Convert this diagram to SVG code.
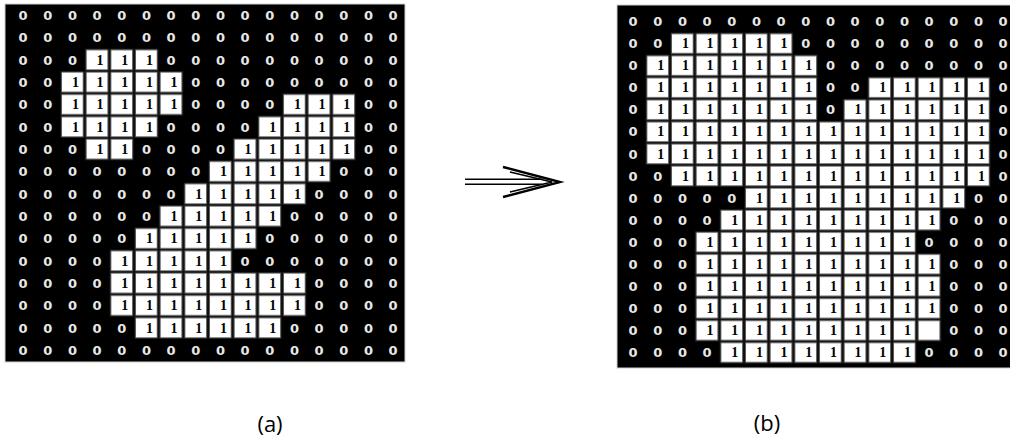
<svg xmlns="http://www.w3.org/2000/svg" width="1010" height="441" viewBox="0 0 1010 441">
<style>
.z{fill:#e8e8e8;font-family:"DejaVu Sans",sans-serif;font-weight:bold;font-size:13px;text-anchor:middle}
.o{fill:#000;font-family:"Liberation Serif",serif;font-weight:bold;font-size:14px;text-anchor:middle}
.bg{fill:#000;stroke:#cfcfcf;stroke-width:1}
.lbl{fill:#000;font-family:"Open Sans",sans-serif;font-size:22px;text-anchor:middle}
.ar{fill:none;stroke:#000}
</style>
<defs>
<pattern id="cellA" patternUnits="userSpaceOnUse" x="10.7" y="4" width="24.667" height="22.333">
<rect x="0" y="0" width="24.667" height="22.333" fill="#111"/>
<rect x="1.6" y="1.1" width="21.6" height="20.1" fill="#fff" stroke="#555" stroke-width="0.8"/>
</pattern>
<pattern id="cellB" patternUnits="userSpaceOnUse" x="620.7" y="10.5" width="24.667" height="22.067">
<rect x="0" y="0" width="24.667" height="22.067" fill="#111"/>
<rect x="1.6" y="1.1" width="21.6" height="19.8" fill="#fff" stroke="#555" stroke-width="0.8"/>
</pattern>
</defs>
<rect width="1010" height="441" fill="#fff"/>

<g id="grid-a">
<rect class="bg" x="5" y="4" width="400" height="358"/>
<g fill="url(#cellA)">
<rect x="84.7" y="48.67" width="74" height="22.333"/>
<rect x="60.03" y="71" width="123.33" height="22.333"/>
<rect x="60.03" y="93.33" width="123.33" height="22.333"/>
<rect x="282.03" y="93.33" width="74" height="22.333"/>
<rect x="60.03" y="115.67" width="98.67" height="22.333"/>
<rect x="257.37" y="115.67" width="98.67" height="22.333"/>
<rect x="84.7" y="138" width="49.33" height="22.333"/>
<rect x="232.7" y="138" width="123.33" height="22.333"/>
<rect x="208.03" y="160.33" width="123.33" height="22.333"/>
<rect x="183.37" y="182.67" width="123.33" height="22.333"/>
<rect x="158.7" y="205" width="123.33" height="22.333"/>
<rect x="134.03" y="227.33" width="123.33" height="22.333"/>
<rect x="109.37" y="249.67" width="123.33" height="22.333"/>
<rect x="109.37" y="272" width="197.33" height="22.333"/>
<rect x="109.37" y="294.33" width="197.33" height="22.333"/>
<rect x="134.03" y="316.67" width="148" height="22.333"/>
</g>
<text class="z" x="23 47.7 72.4 97 121.7 146.4 171 195.7 220.4 245 269.7 294.4 319 343.7 368.4 393" y="19.8">0000000000000000</text>
<text class="z" x="23 47.7 72.4 97 121.7 146.4 171 195.7 220.4 245 269.7 294.4 319 343.7 368.4 393" y="42.1">0000000000000000</text>
<text class="z" x="23 47.7 72.4" y="64.5">000</text>
<text class="o" x="100 124.7 149.4" y="64.5">111</text>
<text class="z" x="171 195.7 220.4 245 269.7 294.4 319 343.7 368.4 393" y="64.5">0000000000</text>
<text class="z" x="23 47.7" y="86.8">00</text>
<text class="o" x="75.4 100 124.7 149.4 174" y="86.8">11111</text>
<text class="z" x="195.7 220.4 245 269.7 294.4 319 343.7 368.4 393" y="86.8">000000000</text>
<text class="z" x="23 47.7" y="109.1">00</text>
<text class="o" x="75.4 100 124.7 149.4 174" y="109.1">11111</text>
<text class="z" x="195.7 220.4 245 269.7" y="109.1">0000</text>
<text class="o" x="297.4 322 346.7" y="109.1">111</text>
<text class="z" x="368.4 393" y="109.1">00</text>
<text class="z" x="23 47.7" y="131.5">00</text>
<text class="o" x="75.4 100 124.7 149.4" y="131.5">1111</text>
<text class="z" x="171 195.7 220.4 245" y="131.5">0000</text>
<text class="o" x="272.7 297.4 322 346.7" y="131.5">1111</text>
<text class="z" x="368.4 393" y="131.5">00</text>
<text class="z" x="23 47.7 72.4" y="153.8">000</text>
<text class="o" x="100 124.7" y="153.8">11</text>
<text class="z" x="146.4 171 195.7 220.4" y="153.8">0000</text>
<text class="o" x="248 272.7 297.4 322 346.7" y="153.8">11111</text>
<text class="z" x="368.4 393" y="153.8">00</text>
<text class="z" x="23 47.7 72.4 97 121.7 146.4 171 195.7" y="176.1">00000000</text>
<text class="o" x="223.4 248 272.7 297.4 322" y="176.1">11111</text>
<text class="z" x="343.7 368.4 393" y="176.1">000</text>
<text class="z" x="23 47.7 72.4 97 121.7 146.4 171" y="198.5">0000000</text>
<text class="o" x="198.7 223.4 248 272.7 297.4" y="198.5">11111</text>
<text class="z" x="319 343.7 368.4 393" y="198.5">0000</text>
<text class="z" x="23 47.7 72.4 97 121.7 146.4" y="220.8">000000</text>
<text class="o" x="174 198.7 223.4 248 272.7" y="220.8">11111</text>
<text class="z" x="294.4 319 343.7 368.4 393" y="220.8">00000</text>
<text class="z" x="23 47.7 72.4 97 121.7" y="243.1">00000</text>
<text class="o" x="149.4 174 198.7 223.4 248" y="243.1">11111</text>
<text class="z" x="269.7 294.4 319 343.7 368.4 393" y="243.1">000000</text>
<text class="z" x="23 47.7 72.4 97" y="265.5">0000</text>
<text class="o" x="124.7 149.4 174 198.7 223.4" y="265.5">11111</text>
<text class="z" x="245 269.7 294.4 319 343.7 368.4 393" y="265.5">0000000</text>
<text class="z" x="23 47.7 72.4 97" y="287.8">0000</text>
<text class="o" x="124.7 149.4 174 198.7 223.4 248 272.7 297.4" y="287.8">11111111</text>
<text class="z" x="319 343.7 368.4 393" y="287.8">0000</text>
<text class="z" x="23 47.7 72.4 97" y="310.1">0000</text>
<text class="o" x="124.7 149.4 174 198.7 223.4 248 272.7 297.4" y="310.1">11111111</text>
<text class="z" x="319 343.7 368.4 393" y="310.1">0000</text>
<text class="z" x="23 47.7 72.4 97 121.7" y="332.5">00000</text>
<text class="o" x="149.4 174 198.7 223.4 248 272.7" y="332.5">111111</text>
<text class="z" x="294.4 319 343.7 368.4 393" y="332.5">00000</text>
<text class="z" x="23 47.7 72.4 97 121.7 146.4 171 195.7 220.4 245 269.7 294.4 319 343.7 368.4 393" y="354.8">0000000000000000</text>
</g>

<g id="grid-b">
<rect class="bg" x="617" y="5" width="400" height="363"/>
<g fill="url(#cellB)">
<rect x="670.03" y="32.57" width="123.33" height="22.067"/>
<rect x="645.37" y="54.63" width="172.67" height="22.067"/>
<rect x="645.37" y="76.7" width="172.67" height="22.067"/>
<rect x="867.37" y="76.7" width="123.33" height="22.067"/>
<rect x="645.37" y="98.77" width="172.67" height="22.067"/>
<rect x="842.7" y="98.77" width="148" height="22.067"/>
<rect x="645.37" y="120.83" width="345.33" height="22.067"/>
<rect x="645.37" y="142.9" width="345.33" height="22.067"/>
<rect x="670.03" y="164.97" width="320.67" height="22.067"/>
<rect x="744.03" y="187.03" width="222" height="22.067"/>
<rect x="719.37" y="209.1" width="222" height="22.067"/>
<rect x="694.7" y="231.17" width="222" height="22.067"/>
<rect x="694.7" y="253.23" width="246.67" height="22.067"/>
<rect x="694.7" y="275.3" width="246.67" height="22.067"/>
<rect x="694.7" y="297.37" width="246.67" height="22.067"/>
<rect x="694.7" y="319.43" width="246.67" height="22.067"/>
<rect x="719.37" y="341.5" width="197.33" height="22.067"/>
</g>
<text class="z" x="633 657.7 682.4 707 731.7 756.4 781 805.7 830.4 855 879.7 904.4 929 953.7 978.4 1003" y="26.1">0000000000000000</text>
<text class="z" x="633 657.7" y="48.2">00</text>
<text class="o" x="685.4 710 734.7 759.4 784" y="48.2">11111</text>
<text class="z" x="805.7 830.4 855 879.7 904.4 929 953.7 978.4 1003" y="48.2">000000000</text>
<text class="z" x="633" y="70.2">0</text>
<text class="o" x="660.7 685.4 710 734.7 759.4 784 808.7" y="70.2">1111111</text>
<text class="z" x="830.4 855 879.7 904.4 929 953.7 978.4 1003" y="70.2">00000000</text>
<text class="z" x="633" y="92.3">0</text>
<text class="o" x="660.7 685.4 710 734.7 759.4 784 808.7" y="92.3">1111111</text>
<text class="z" x="830.4 855" y="92.3">00</text>
<text class="o" x="882.7 907.4 932 956.7 981.4" y="92.3">11111</text>
<text class="z" x="1003" y="92.3">0</text>
<text class="z" x="633" y="114.4">0</text>
<text class="o" x="660.7 685.4 710 734.7 759.4 784 808.7" y="114.4">1111111</text>
<text class="z" x="830.4" y="114.4">0</text>
<text class="o" x="858 882.7 907.4 932 956.7 981.4" y="114.4">111111</text>
<text class="z" x="1003" y="114.4">0</text>
<text class="z" x="633" y="136.4">0</text>
<text class="o" x="660.7 685.4 710 734.7 759.4 784 808.7 833.4 858 882.7 907.4 932 956.7 981.4" y="136.4">11111111111111</text>
<text class="z" x="1003" y="136.4">0</text>
<text class="z" x="633" y="158.5">0</text>
<text class="o" x="660.7 685.4 710 734.7 759.4 784 808.7 833.4 858 882.7 907.4 932 956.7 981.4" y="158.5">11111111111111</text>
<text class="z" x="1003" y="158.5">0</text>
<text class="z" x="633 657.7" y="180.6">00</text>
<text class="o" x="685.4 710 734.7 759.4 784 808.7 833.4 858 882.7 907.4 932 956.7 981.4" y="180.6">1111111111111</text>
<text class="z" x="1003" y="180.6">0</text>
<text class="z" x="633 657.7 682.4 707 731.7" y="202.6">00000</text>
<text class="o" x="759.4 784 808.7 833.4 858 882.7 907.4 932 956.7" y="202.6">111111111</text>
<text class="z" x="978.4 1003" y="202.6">00</text>
<text class="z" x="633 657.7 682.4 707" y="224.7">0000</text>
<text class="o" x="734.7 759.4 784 808.7 833.4 858 882.7 907.4 932" y="224.7">111111111</text>
<text class="z" x="953.7 978.4 1003" y="224.7">000</text>
<text class="z" x="633 657.7 682.4" y="246.8">000</text>
<text class="o" x="710 734.7 759.4 784 808.7 833.4 858 882.7 907.4" y="246.8">111111111</text>
<text class="z" x="929 953.7 978.4 1003" y="246.8">0000</text>
<text class="z" x="633 657.7 682.4" y="268.8">000</text>
<text class="o" x="710 734.7 759.4 784 808.7 833.4 858 882.7 907.4 932" y="268.8">1111111111</text>
<text class="z" x="953.7 978.4 1003" y="268.8">000</text>
<text class="z" x="633 657.7 682.4" y="290.9">000</text>
<text class="o" x="710 734.7 759.4 784 808.7 833.4 858 882.7 907.4 932" y="290.9">1111111111</text>
<text class="z" x="953.7 978.4 1003" y="290.9">000</text>
<text class="z" x="633 657.7 682.4" y="313">000</text>
<text class="o" x="710 734.7 759.4 784 808.7 833.4 858 882.7 907.4 932" y="313">1111111111</text>
<text class="z" x="953.7 978.4 1003" y="313">000</text>
<text class="z" x="633 657.7 682.4" y="335">000</text>
<text class="o" x="710 734.7 759.4 784 808.7 833.4 858 882.7 907.4" y="335">111111111</text>
<text class="z" x="953.7 978.4 1003" y="335">000</text>
<text class="z" x="633 657.7 682.4 707" y="357.1">0000</text>
<text class="o" x="734.7 759.4 784 808.7 833.4 858 882.7 907.4" y="357.1">11111111</text>
<text class="z" x="929 953.7 978.4 1003" y="357.1">0000</text>
</g>

<g id="connectors">
<line class="ar" x1="465" y1="179.3" x2="542" y2="179.3" stroke-width="1.6"/>
<line class="ar" x1="465" y1="184.3" x2="542" y2="184.3" stroke-width="1.6"/>
<path class="ar" d="M503,167 L560,182 L503,197" stroke-width="2.4"/>
<path class="ar" d="M510,172 L552,182 L510,192" stroke-width="1.6"/>
</g>

<g id="labels">
<text class="lbl" x="270" y="432">(a)</text>
<text class="lbl" x="767" y="431">(b)</text>
</g>
</svg>
